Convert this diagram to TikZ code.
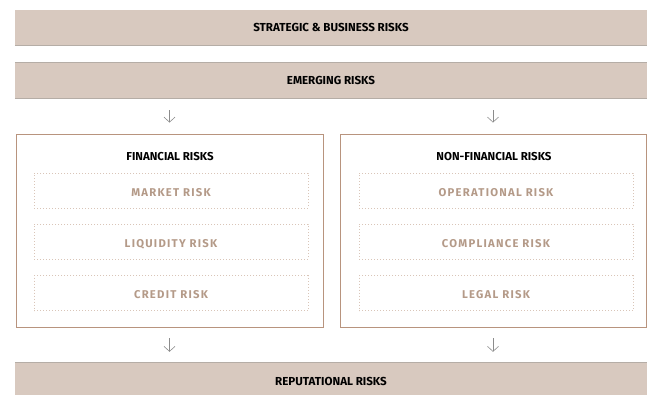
\documentclass[tikz,border=0pt]{standalone}
\usepackage{fontspec}
\setmainfont{Fira Sans}
\newfontfamily\spacedfont[LetterSpace=11]{Fira Sans}
\usetikzlibrary{arrows.meta}
\definecolor{barfill}{HTML}{D8C9BF}
\definecolor{barline}{HTML}{B5ADA6}
\definecolor{boxline}{HTML}{B8947E}
\definecolor{dotline}{HTML}{D9C5B8}
\definecolor{subtext}{HTML}{B49A88}
\definecolor{arrgrey}{HTML}{8C8C8C}
\tikzset{
  bar/.style={fill=barfill, minimum width=632pt, minimum height=35pt, inner sep=0pt,
    font=\fontsize{11.6}{12}\selectfont\bfseries, text=black},
  barrule/.style={draw=barline, line width=0.7pt},
  group/.style={draw=boxline, line width=0.9pt, minimum height=193pt, inner sep=0pt},
  grouptitle/.style={font=\fontsize{11.5}{12}\selectfont\bfseries, text=black, inner sep=0pt},
  riskbox/.style={draw=dotline, line width=0.9pt, dash pattern=on 0.9pt off 2.1pt,
    minimum width=274pt, minimum height=35pt, inner sep=0pt,
    text height=11pt, text depth=0pt,
    font=\fontsize{11.3}{12}\spacedfont\bfseries, text=subtext},
  arr/.style={draw=arrgrey, line width=0.6pt, -{Straight Barb[length=5pt,width=11pt]}},
}
\begin{document}
\begin{tikzpicture}[x=1pt,y=-1pt]
\useasboundingbox (0,0) rectangle (647,394);
% bars
\node[bar] (strat) at (331,27.5) {STRATEGIC \& BUSINESS RISKS};
\draw[barrule] (strat.south west) -- (strat.south east);
\node[bar] (emerg) at (331,80.5) {EMERGING RISKS};
\draw[barrule] (emerg.north west) -- (emerg.north east);
\draw[barrule] (emerg.south west) -- (emerg.south east);
\node[bar, minimum height=36pt] (reput) at (331,381) {REPUTATIONAL RISKS};
\draw[barrule] (reput.north west) -- (reput.north east);
% groups
\node[group, minimum width=307pt] (fin) at (169.5,230.5) {};
\node[group, minimum width=306pt] (nonfin) at (493,230.5) {};
\node[grouptitle] (fintitle) at (170,157) {FINANCIAL RISKS};
\node[grouptitle] (nonfintitle) at (494,157) {NON-FINANCIAL RISKS};
% risk boxes
\node[riskbox] (market) at (171,190.5) {MARKET RISK};
\node[riskbox] (liquid) at (171,241.5) {LIQUIDITY RISK};
\node[riskbox] (credit) at (171,293) {CREDIT RISK};
\node[riskbox] (oper) at (496,190.5) {OPERATIONAL RISK};
\node[riskbox] (compl) at (496,241.5) {COMPLIANCE RISK};
\node[riskbox] (legal) at (496,293) {LEGAL RISK};
% arrows
\draw[arr, shorten <=12pt, shorten >=11pt] (fin.north |- emerg.south) -- (fin.north);
\draw[arr, shorten <=12pt, shorten >=11pt] (nonfin.north |- emerg.south) -- (nonfin.north);
\draw[arr, shorten <=11pt, shorten >=11pt] (fin.south) -- (fin.south |- reput.north);
\draw[arr, shorten <=11pt, shorten >=11pt] (nonfin.south) -- (nonfin.south |- reput.north);
\end{tikzpicture}
\end{document}
